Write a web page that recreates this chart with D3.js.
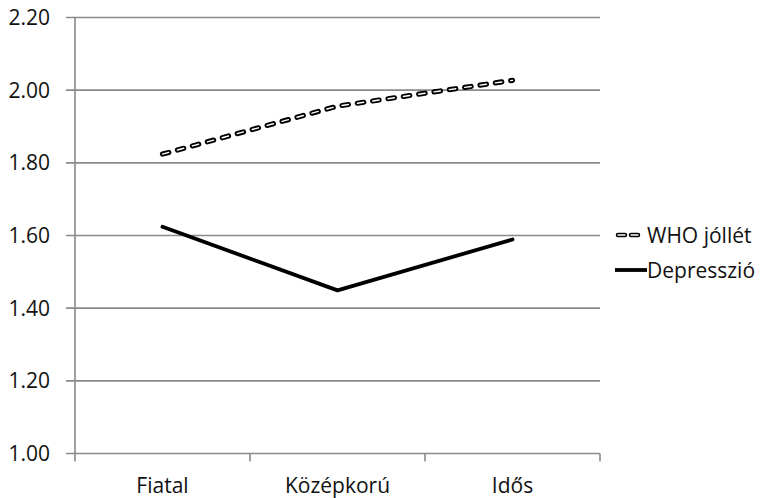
<!DOCTYPE html>
<html><head><meta charset="utf-8">
<script src="https://cdn.jsdelivr.net/npm/d3@7"></script>
<style>body{margin:0;background:#fff}svg{display:block}text{font-family:"Open Sans","Noto Sans",sans-serif;fill:#111}</style>
</head><body>
<svg id="c" width="762" height="498"></svg>
<script>
const categories = ["Fiatal", "Középkorú", "Idős"];
const whoValues = [1.824, 1.956, 2.027];
const depValues = [1.624, 1.449, 1.589];
const seriesNames = ["WHO jóllét", "Depresszió"];
const yTicks = [1.0, 1.2, 1.4, 1.6, 1.8, 2.0, 2.2];

const svg = d3.select("#c");
const L = 75, R = 600, T = 17.5, B = 453.5;
const x = d3.scaleBand().domain(categories).range([L, R]);
const y = d3.scaleLinear().domain([1.0, 2.2]).range([B, T]);
const grid = "#8a8a8a";
const fs = "21px";

svg.append("g").selectAll("line").data(yTicks).join("line")
  .attr("x1", L - 9).attr("x2", R).attr("y1", d => y(d)).attr("y2", d => y(d))
  .attr("stroke", grid).attr("stroke-width", 1.6);
svg.append("line").attr("x1", L).attr("x2", L).attr("y1", T).attr("y2", B + 8)
  .attr("stroke", grid).attr("stroke-width", 1.6);
const bounds = categories.map((c) => x(c) + x.bandwidth()).slice(0, -1).concat([R]);
svg.append("g").selectAll("line").data(bounds).join("line")
  .attr("x1", d => d).attr("x2", d => d).attr("y1", B).attr("y2", B + 8)
  .attr("stroke", grid).attr("stroke-width", 1.6);

svg.append("g").selectAll("text").data(yTicks).join("text")
  .attr("x", 50).attr("y", d => y(d)).attr("dy", "0.36em").attr("text-anchor", "end")
  .style("font-size", fs).text(d => d.toFixed(2));
svg.append("g").selectAll("text").data(categories).join("text")
  .attr("x", d => x(d) + x.bandwidth() / 2).attr("y", 493).attr("text-anchor", "middle")
  .style("font-size", fs).text(d => d);

const line = d3.line().x((d, i) => x(categories[i]) + x.bandwidth() / 2).y(d => y(d));

svg.append("path").attr("d", line(depValues)).attr("fill", "none")
  .attr("stroke", "#000").attr("stroke-width", 3.8).attr("stroke-linejoin", "round").attr("stroke-linecap", "round");

svg.append("path").attr("d", line(whoValues)).attr("fill", "none")
  .attr("stroke", "#000").attr("stroke-width", 5.2).attr("stroke-dasharray", "6.5,9").attr("stroke-linecap", "round");
svg.append("path").attr("d", line(whoValues)).attr("fill", "none")
  .attr("stroke", "#fff").attr("stroke-width", 1.4).attr("stroke-dasharray", "6.5,9").attr("stroke-linecap", "round");

const lg = svg.append("g");
const ly = [235, 270];
lg.append("line").attr("x1", 618).attr("x2", 644).attr("y1", ly[0]).attr("y2", ly[0])
  .attr("stroke", "#000").attr("stroke-width", 4.5).attr("stroke-dasharray", "7,6").attr("stroke-linecap", "round");
lg.append("line").attr("x1", 618).attr("x2", 644).attr("y1", ly[0]).attr("y2", ly[0])
  .attr("stroke", "#fff").attr("stroke-width", 1.3).attr("stroke-dasharray", "7,6").attr("stroke-linecap", "round");
lg.append("line").attr("x1", 615).attr("x2", 647).attr("y1", ly[1]).attr("y2", ly[1])
  .attr("stroke", "#000").attr("stroke-width", 3.8);
lg.selectAll("text").data(seriesNames).join("text")
  .attr("x", 647).attr("y", (d, i) => ly[i]).attr("dy", "0.36em")
  .style("font-size", fs).text(d => d);
</script>
</body></html>
